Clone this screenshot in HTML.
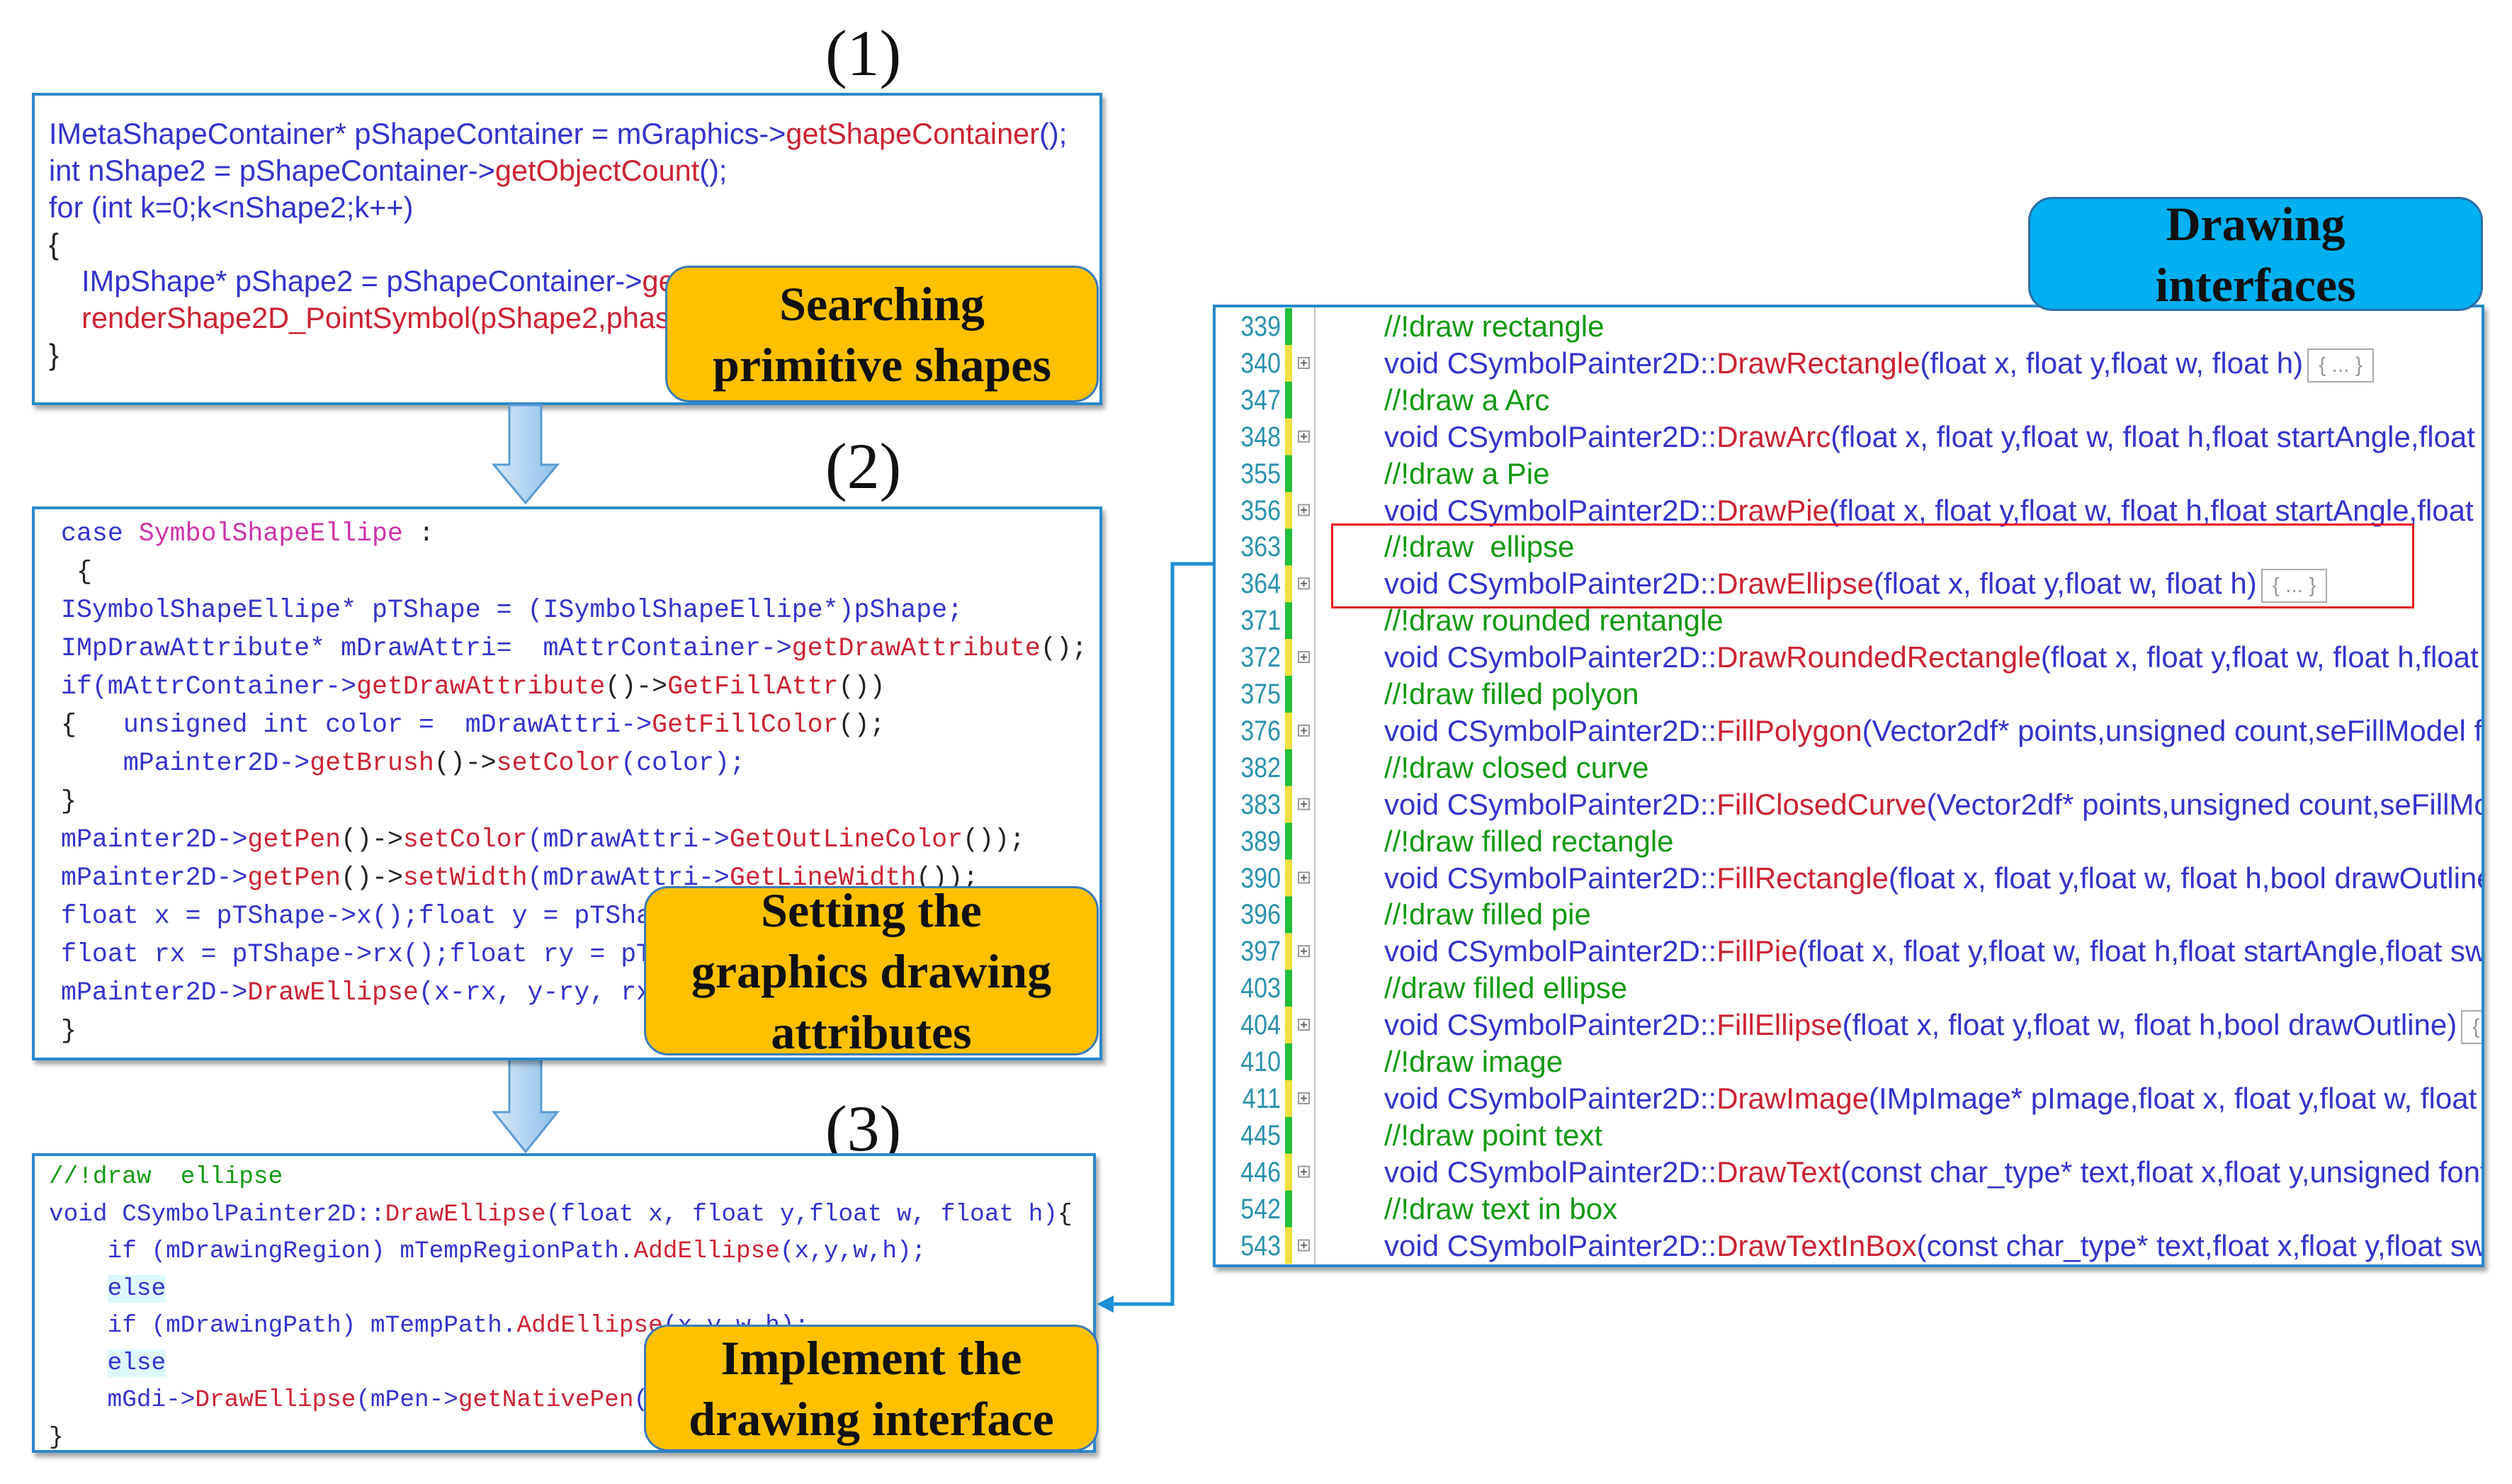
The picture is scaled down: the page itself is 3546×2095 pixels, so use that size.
<!DOCTYPE html>
<html><head><meta charset="utf-8">
<style>
body{margin:0;width:3546px;height:2095px;background:#fff;position:relative;overflow:hidden;font-family:"Liberation Sans",sans-serif}
.abs{position:absolute}
.box{position:absolute;border:4px solid #2a88cc;background:#fff;box-shadow:4px 6px 6px rgba(0,0,0,0.35);overflow:hidden}
.code{position:absolute;white-space:pre}
.b{color:#3333cc}.r{color:#cc2233}.g{color:#119911}.m{color:#cc33aa}.k{color:#222}
.lab{position:absolute;background:#ffc000;border:3px solid #3a7ab8;border-radius:34px;font-family:"Liberation Serif",serif;font-weight:bold;font-size:68px;line-height:86px;text-align:center;color:#111;box-sizing:border-box;display:flex;align-items:center;justify-content:center}
.num{position:absolute;font-family:"Liberation Serif",serif;font-size:92px;color:#111}
.mono{font-family:"Liberation Mono",monospace}
</style></head><body>

<div class="num" style="left:1165px;top:22px">(1)</div>
<div class="num" style="left:1165px;top:605px">(2)</div>
<div class="num" style="left:1165px;top:1540px">(3)</div>

<!-- Box 1 -->
<div class="box" style="left:45px;top:131px;width:1503px;height:433px">
<div class="code" style="left:20px;top:28px;font-size:41.5px;line-height:52px"><span class="b">IMetaShapeContainer* pShapeContainer = mGraphics-&gt;</span><span class="r">getShapeContainer</span><span class="b">();</span>
<span class="b">int nShape2 = pShapeContainer-&gt;</span><span class="r">getObjectCount</span><span class="b">();</span>
<span class="b">for (int k=0;k&lt;nShape2;k++)</span>
<span class="k">{</span>
<span class="b">    IMpShape* pShape2 = pShapeContainer-&gt;</span><span class="r">getObject(k);</span>
<span class="r">    renderShape2D_PointSymbol(pShape2,phase);</span>
<span class="k">}</span></div>
</div>
<div class="lab" style="left:939px;top:375px;width:612px;height:193px">Searching<br>primitive shapes</div>

<!-- Arrows -->
<svg class="abs" style="left:690px;top:570px" width="105" height="150">
<defs><linearGradient id="ag" x1="0" x2="1"><stop offset="0" stop-color="#d7e9f8"/><stop offset="1" stop-color="#8dbfe8"/></linearGradient></defs>
<polygon points="29,2 74,2 74,86 97,86 52,140 7,86 29,86" fill="url(#ag)" stroke="#5b9bd5" stroke-width="3"/></svg>
<svg class="abs" style="left:690px;top:1490px" width="105" height="145">
<polygon points="29,2 74,2 74,80 97,80 52,136 7,80 29,80" fill="url(#ag)" stroke="#5b9bd5" stroke-width="3"/></svg>

<!-- Box 2 -->
<div class="box" style="left:45px;top:715px;width:1503px;height:774px">
<div class="code mono" style="left:37px;top:8px;font-size:36.6px;line-height:54px"><span class="b">case</span> <span class="m">SymbolShapeEllipe</span> <span class="k">:</span>
<span class="k"> {</span>
<span class="b">ISymbolShapeEllipe* pTShape = (ISymbolShapeEllipe*)pShape;</span>
<span class="b">IMpDrawAttribute* mDrawAttri=  mAttrContainer-&gt;</span><span class="r">getDrawAttribute</span><span class="k">();</span>
<span class="b">if(mAttrContainer-&gt;</span><span class="r">getDrawAttribute</span><span class="k">()-&gt;</span><span class="r">GetFillAttr</span><span class="k">())</span>
<span class="k">{</span>   <span class="b">unsigned int color =  mDrawAttri-&gt;</span><span class="r">GetFillColor</span><span class="k">();</span>
    <span class="b">mPainter2D-&gt;</span><span class="r">getBrush</span><span class="k">()-&gt;</span><span class="r">setColor</span><span class="b">(color);</span>
<span class="k">}</span>
<span class="b">mPainter2D-&gt;</span><span class="r">getPen</span><span class="k">()-&gt;</span><span class="r">setColor</span><span class="b">(mDrawAttri-&gt;</span><span class="r">GetOutLineColor</span><span class="k">());</span>
<span class="b">mPainter2D-&gt;</span><span class="r">getPen</span><span class="k">()-&gt;</span><span class="r">setWidth</span><span class="b">(mDrawAttri-&gt;</span><span class="r">GetLineWidth</span><span class="k">());</span>
<span class="b">float x = pTShape-&gt;x();float y = pTShape-&gt;y();</span>
<span class="b">float rx = pTShape-&gt;rx();float ry = pTShape-&gt;ry();</span>
<span class="b">mPainter2D-&gt;</span><span class="r">DrawEllipse</span><span class="b">(x-rx, y-ry, rx*2, ry*2);</span>
<span class="k">}</span></div>
</div>
<div class="lab" style="left:909px;top:1251px;width:642px;height:239px">Setting the<br>graphics drawing<br>attributes</div>

<!-- Box 3 -->
<div class="box" style="left:45px;top:1628px;width:1494px;height:415px">
<div class="code mono" style="left:20px;top:4px;font-size:34.4px;line-height:52.5px"><span class="g">//!draw  ellipse</span>
<span class="b">void CSymbolPainter2D::</span><span class="r">DrawEllipse</span><span class="b">(float x, float y,float w, float h)</span><span class="k">{</span>
    <span class="b">if</span> <span class="b">(mDrawingRegion) mTempRegionPath.</span><span class="r">AddEllipse</span><span class="b">(x,y,w,h);</span>
    <span class="b" style="background:#ddf8fb">else</span>
    <span class="b">if</span> <span class="b">(mDrawingPath) mTempPath.</span><span class="r">AddEllipse</span><span class="b">(x,y,w,h);</span>
    <span class="b" style="background:#ddf8fb">else</span>
    <span class="b">mGdi-&gt;</span><span class="r">DrawEllipse</span><span class="b">(mPen-&gt;</span><span class="r">getNativePen</span><span class="b">(),x,y,w,h);</span>
<span class="k">}</span></div>
</div>
<div class="lab" style="left:909px;top:1870px;width:642px;height:179px">Implement the<br>drawing interface</div>

<!-- Connector -->
<svg class="abs" style="left:0;top:0" width="3546" height="2095">
<polyline points="1714,796 1655,796 1655,1841 1566,1841" fill="none" stroke="#1e8fd6" stroke-width="5"/>
<polygon points="1548,1841 1572,1829 1572,1853" fill="#1e8fd6"/>
</svg>

<!-- Right panel -->
<div class="box" style="left:1712px;top:430px;width:1787px;height:1351px;border-color:#2a88cc">
<svg class="abs" style="left:0;top:0" width="1787" height="1351">
<line x1="140" y1="0" x2="140" y2="1351" stroke="#c8c8c8" stroke-width="2"/>
<g id="bars"></g>
</svg>
<div id="rows"></div>
</div>
<div class="abs" style="left:1879px;top:739px;width:1523px;height:114px;border:3px solid #e8101a"></div>

<div class="lab" style="left:2863px;top:278px;width:642px;height:161px;background:#00b0f0;border-color:#2a6fa8">Drawing<br>interfaces</div>

<script>
var rows=[
["339","g","//!draw rectangle"],
["340","c","DrawRectangle","(float x, float y,float w, float h)",1],
["347","g","//!draw a Arc"],
["348","c","DrawArc","(float x, float y,float w, float h,float startAngle,float sweepAngle)"],
["355","g","//!draw a Pie"],
["356","c","DrawPie","(float x, float y,float w, float h,float startAngle,float sweepAngle)"],
["363","g","//!draw  ellipse"],
["364","c","DrawEllipse","(float x, float y,float w, float h)",1],
["371","g","//!draw rounded rentangle"],
["372","c","DrawRoundedRectangle","(float x, float y,float w, float h,float r)"],
["375","g","//!draw filled polyon"],
["376","c","FillPolygon","(Vector2df* points,unsigned count,seFillModel fillModel)"],
["382","g","//!draw closed curve"],
["383","c","FillClosedCurve","(Vector2df* points,unsigned count,seFillModel fillModel)"],
["389","g","//!draw filled rectangle"],
["390","c","FillRectangle","(float x, float y,float w, float h,bool drawOutline)"],
["396","g","//!draw filled pie"],
["397","c","FillPie","(float x, float y,float w, float h,float startAngle,float sweepAngle)"],
["403","g","//draw filled ellipse"],
["404","c","FillEllipse","(float x, float y,float w, float h,bool drawOutline)",1],
["410","g","//!draw image"],
["411","c","DrawImage","(IMpImage* pImage,float x, float y,float w, float h)"],
["445","g","//!draw point text"],
["446","c","DrawText","(const char_type* text,float x,float y,unsigned fontSize)"],
["542","g","//!draw text in box"],
["543","c","DrawTextInBox","(const char_type* text,float x,float y,float sw,float sh)"]];
var h="",b="";
rows.forEach(function(r,i){
 var cy=27+i*51.9, top=cy-25;
 h+='<div class="code" style="left:0;width:92px;text-align:right;top:'+top+'px;font-size:40px;line-height:50px;color:#2b91af;transform:scaleX(0.85);transform-origin:right">'+r[0]+'</div>';
 b+='<rect x="98" y="'+(cy-26)+'" width="10" height="52" fill="'+(r[1]=="g"?"#1fbf3a":"#f0e040")+'"/>';
 if(r[1]=="g"){
  h+='<div class="code g" style="left:238px;top:'+top+'px;font-size:42px;line-height:50px">'+r[2]+'</div>';
 } else {
  b+='<rect x="117" y="'+(cy-8)+'" width="15" height="15" fill="#fff" stroke="#999" stroke-width="2"/><line x1="120" y1="'+(cy-0.5)+'" x2="129" y2="'+(cy-0.5)+'" stroke="#666" stroke-width="2"/><line x1="124.5" y1="'+(cy-5)+'" x2="124.5" y2="'+(cy+4)+'" stroke="#666" stroke-width="2"/>';
  h+='<div class="code" style="left:238px;top:'+top+'px;font-size:42px;line-height:50px"><span class="b">void CSymbolPainter2D::</span><span class="r">'+r[2]+'</span><span class="b">'+r[3]+'</span>'+(r[4]?'<span style="display:inline-block;border:2px solid #aaa;color:#999;font-size:30px;line-height:44px;padding:0 14px;margin-left:6px;vertical-align:middle">{ ... }</span>':'')+'</div>';
 }
});
document.getElementById('rows').innerHTML=h;
document.getElementById('bars').innerHTML=b;
</script>
</body></html>
